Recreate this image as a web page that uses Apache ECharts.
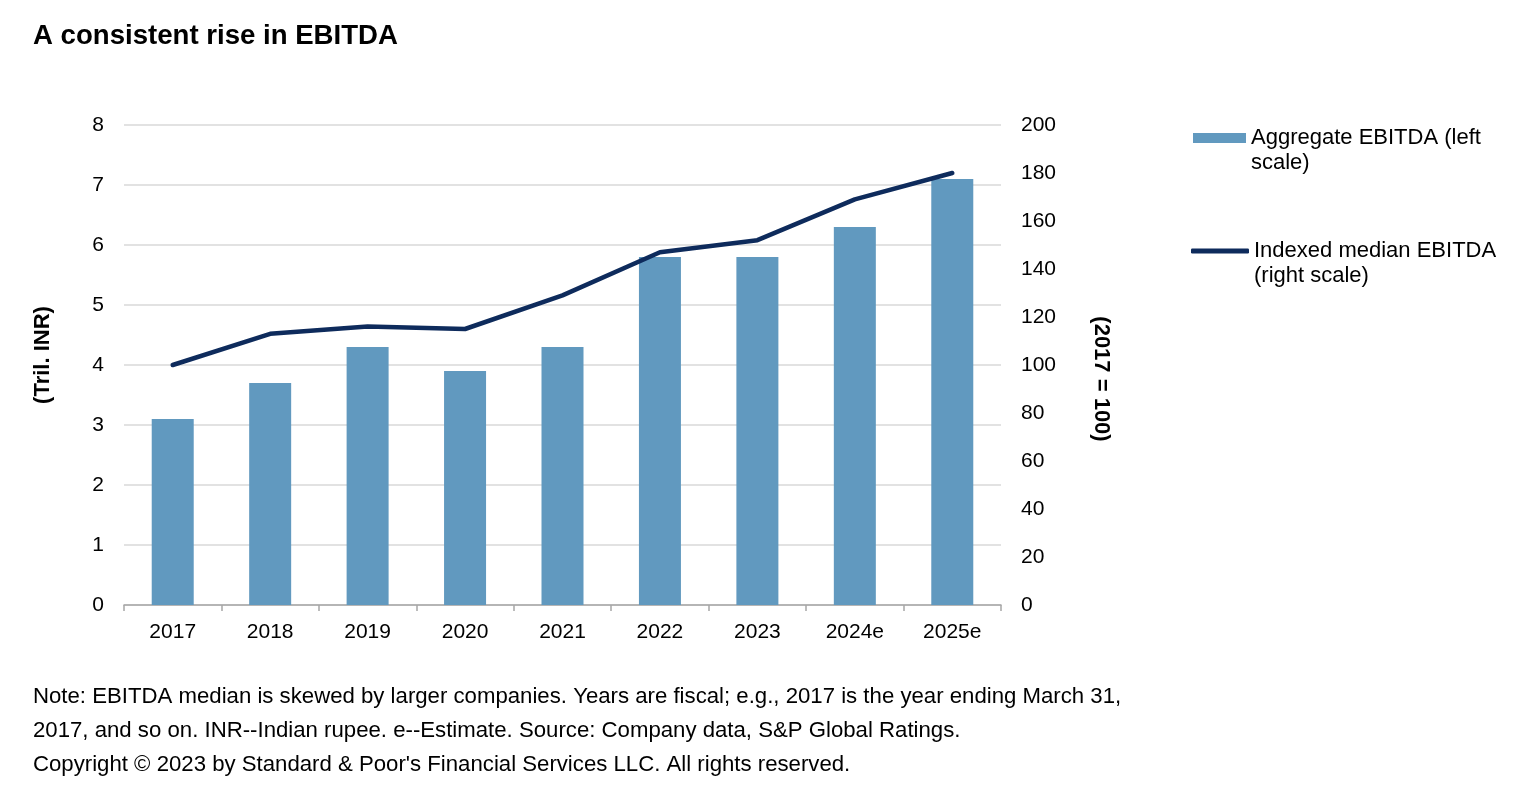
<!DOCTYPE html>
<html>
<head>
<meta charset="utf-8">
<script src="https://cdn.jsdelivr.net/npm/echarts@6/dist/echarts.min.js"></script>
<style>
html,body{margin:0;padding:0;background:#fff;}
#chart{width:1522px;height:804px;}
</style>
</head>
<body>
<div id="chart"></div>
<script>
var categories = ['2017','2018','2019','2020','2021','2022','2023','2024e','2025e'];
var aggregateEbitda = [3.1, 3.7, 4.3, 3.9, 4.3, 5.8, 5.8, 6.3, 7.1];
var indexedMedianEbitda = [100, 113, 116, 115, 129, 147, 152, 169, 180];
var seriesNames = ['Aggregate EBITDA (left\nscale)', 'Indexed median EBITDA\n(right scale)'];
var titleText = 'A consistent rise in EBITDA';
var noteLines = [
  'Note: EBITDA median is skewed by larger companies. Years are fiscal; e.g., 2017 is the year ending March 31,',
  '2017, and so on. INR--Indian rupee. e--Estimate. Source: Company data, S&P Global Ratings.',
  'Copyright \u00a9 2023 by Standard & Poor\'s Financial Services LLC. All rights reserved.'
];
var leftAxisName = '(Tril. INR)';
var rightAxisName = '(2017 = 100)';

var FONT = '"Liberation Sans", Arial, Helvetica, sans-serif';
var legendFormatter = function (name) { return ' \n' + name; };
var chart = echarts.init(document.getElementById('chart'));
chart.setOption({
  backgroundColor: '#ffffff',
  animation: false,
  textStyle: { fontFamily: FONT, color: '#000' },
  title: [
    { text: titleText, left: 28, top: 17, textStyle: { fontFamily: FONT, fontSize: 27.6, fontWeight: 'bold', color: '#000' } },
    { text: noteLines.join('\n'), left: 28, top: 675, textStyle: { fontFamily: FONT, fontSize: 22.2, fontWeight: 'normal', color: '#000', lineHeight: 34 } }
  ],
  legend: [
    {
      data: [{ name: seriesNames[0], icon: 'rect' }],
      formatter: legendFormatter,
      orient: 'vertical', left: 1188, top: 95.5,
      itemWidth: 53, itemHeight: 10,
      textStyle: { fontFamily: FONT, fontSize: 22, color: '#000', lineHeight: 25 },
      selectedMode: false
    },
    {
      data: [{ name: seriesNames[1], icon: 'roundRect' }],
      formatter: legendFormatter,
      orient: 'vertical', left: 1186, top: 208.5,
      itemWidth: 58, itemHeight: 5,
      textStyle: { fontFamily: FONT, fontSize: 22, color: '#000', lineHeight: 25 },
      selectedMode: false
    }
  ],
  grid: { left: 124, right: 521, top: 125, bottom: 199, containLabel: false },
  xAxis: {
    type: 'category', data: categories, boundaryGap: true,
    axisLine: { show: true, lineStyle: { color: '#a6a6a6', width: 1.5 } },
    axisTick: { show: true, alignWithLabel: false, length: 6, lineStyle: { color: '#a6a6a6', width: 1.5 } },
    axisLabel: { fontFamily: FONT, fontSize: 21, color: '#000', margin: 17 }
  },
  yAxis: [
    {
      type: 'value', min: 0, max: 8, interval: 1, position: 'left',
      name: leftAxisName, nameLocation: 'middle', nameGap: 70, nameRotate: 90,
      nameTextStyle: { fontFamily: FONT, fontSize: 22, fontWeight: 'bold', color: '#000', padding: [0, 0, 0, 20] },
      axisLine: { show: false }, axisTick: { show: false },
      axisLabel: { fontFamily: FONT, fontSize: 21, color: '#000', margin: 20 },
      splitLine: { show: true, lineStyle: { color: '#d9d9d9', width: 1.5 } }
    },
    {
      type: 'value', min: 0, max: 200, interval: 20, position: 'right',
      name: rightAxisName, nameLocation: 'middle', nameGap: 89, nameRotate: -90,
      nameTextStyle: { fontFamily: FONT, fontSize: 22, fontWeight: 'bold', color: '#000', padding: [0, 0, 0, 28] },
      axisLine: { show: false }, axisTick: { show: false },
      axisLabel: { fontFamily: FONT, fontSize: 21, color: '#000', margin: 20 },
      splitLine: { show: false }
    }
  ],
  series: [
    {
      name: seriesNames[0], type: 'bar', yAxisIndex: 0, data: aggregateEbitda,
      barWidth: 42, itemStyle: { color: '#6199bf' }
    },
    {
      name: seriesNames[1], type: 'line', yAxisIndex: 1, data: indexedMedianEbitda,
      showSymbol: false, symbol: 'none',
      lineStyle: { color: '#0e2b5c', width: 4.5, cap: 'round', join: 'round' },
      itemStyle: { color: '#0e2b5c' }
    }
  ]
});
</script>
</body>
</html>
